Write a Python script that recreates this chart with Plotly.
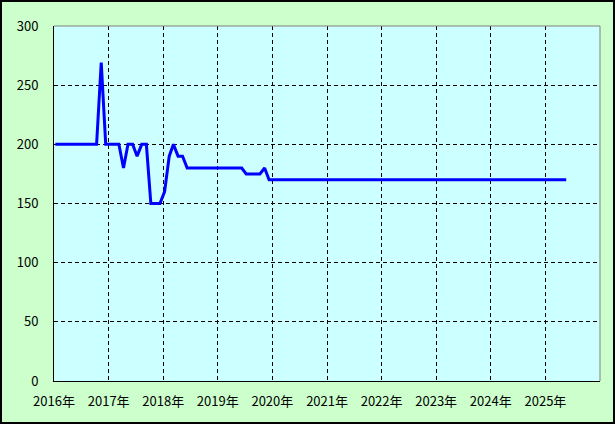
import plotly.graph_objects as go

dates = ["2016-01-10", "2016-10-12", "2016-11-12", "2016-12-12", "2017-03-10",
         "2017-04-10", "2017-05-10", "2017-06-10", "2017-07-10", "2017-08-10",
         "2017-09-10", "2017-10-10", "2017-12-10", "2018-01-10", "2018-02-10",
         "2018-03-10", "2018-04-10", "2018-05-10", "2018-06-10", "2019-06-10",
         "2019-07-10", "2019-10-10", "2019-11-10", "2019-12-10", "2025-05-20"]
values = [200, 200, 269, 200, 200,
          180, 200, 200, 190, 200,
          200, 150, 150, 160, 190,
          200, 190, 190, 180, 180,
          175, 175, 180, 170, 170]

year_ticks = [f"{y}-01-01" for y in range(2016, 2026)]
year_labels = [f"{y}年" for y in range(2016, 2026)]
y_ticks = [0, 50, 100, 150, 200, 250, 300]

W, H = 615, 424
L, R, T, B = 54, 15, 26, 43
pw, ph = W - L - R, H - T - B

def px(p):
    return (p - L) / pw

def py(q):
    return (H - B - q) / ph

fig = go.Figure()
fig.add_trace(go.Scatter(x=dates, y=values, mode="lines",
                         line=dict(color="#0000FF", width=3), showlegend=False))

fig.update_layout(
    width=W, height=H,
    margin=dict(l=L, r=R, t=T, b=B),
    paper_bgcolor="#CCFFCC",
    plot_bgcolor="#CCFFFF",
    font=dict(family="Noto Sans CJK JP, DejaVu Sans, sans-serif", size=13, color="#000000"),
    xaxis=dict(type="date", range=["2016-01-01", "2026-01-01"],
               tickvals=year_ticks, ticktext=year_labels,
               showgrid=True, gridcolor="#000000", gridwidth=1, griddash="4px,3px",
               showline=True, linecolor="#000000", linewidth=1,
               ticks="", ticklabelstandoff=8, zeroline=False),
    yaxis=dict(range=[0, 300], tickvals=y_ticks,
               showgrid=True, gridcolor="#000000", gridwidth=1, griddash="4px,3px",
               showline=True, linecolor="#000000", linewidth=1,
               ticks="", ticklabelstandoff=12, zeroline=False),
    shapes=[
        dict(type="line", xref="paper", yref="paper", x0=0, x1=1, y0=1, y1=1,
             line=dict(color="#808080", width=1)),
        dict(type="line", xref="paper", yref="paper", x0=1, x1=1, y0=0, y1=1,
             line=dict(color="#808080", width=1)),
        dict(type="rect", xref="paper", yref="paper",
             x0=px(1), x1=px(W - 1), y0=py(H - 1), y1=py(1),
             line=dict(color="#000000", width=2)),
    ],
)

fig.write_html("out.html", config={"displayModeBar": False},
               post_script="document.body.style.margin='0';document.body.style.padding='0';document.body.style.overflow='hidden';")
